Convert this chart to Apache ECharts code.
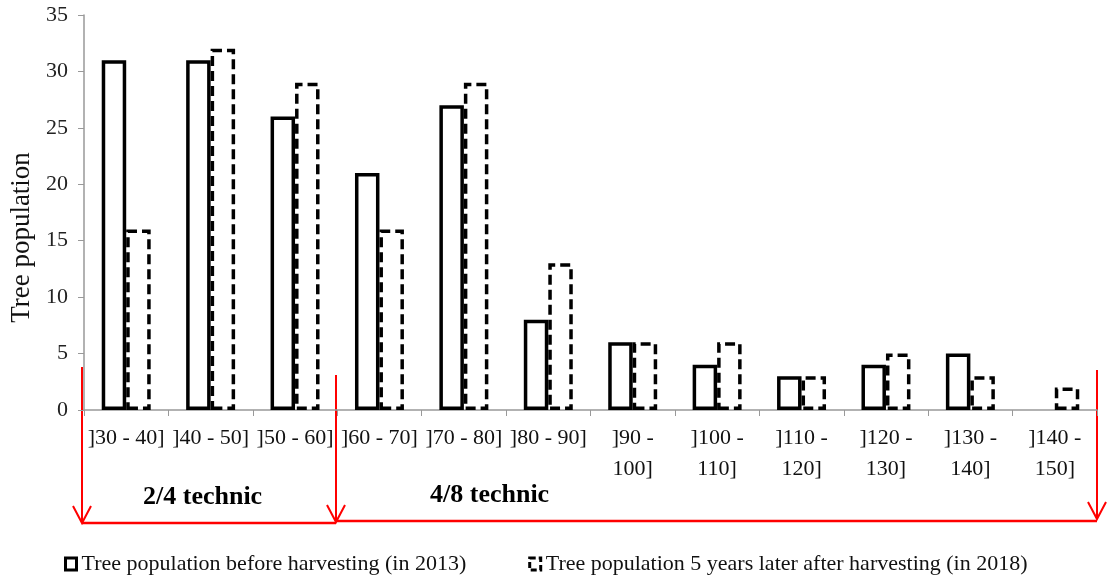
<!DOCTYPE html>
<html>
<head>
<meta charset="utf-8">
<script src="https://cdn.jsdelivr.net/npm/echarts@6/dist/echarts.min.js"></script>
<style>
html,body{margin:0;padding:0;background:#fff;}
#main{width:1115px;height:584px;}
</style>
</head>
<body>
<div id="main"></div>
<script>
const categories = [']30 - 40]', ']40 - 50]', ']50 - 60]', ']60 - 70]', ']70 - 80]', ']80 - 90]',
  ']90 -\n100]', ']100 -\n110]', ']110 -\n120]', ']120 -\n130]', ']130 -\n140]', ']140 -\n150]'];
const before2013 = [31, 31, 26, 21, 27, 8, 6, 4, 3, 4, 5, 0];
const after2018 = [16, 32, 29, 16, 29, 13, 6, 6, 3, 5, 3, 2];
const seriesNames = ['Tree population before harvesting (in 2013)', 'Tree population 5 years later after harvesting (in 2018)'];
const yTicks = {min: 0, max: 35, interval: 5};

const serif = '"Liberation Serif", "DejaVu Serif", serif';
const chart = echarts.init(document.getElementById('main'));

const red = '#ff0000';
function arrow(x, y1, y2) {
  return [
    {type: 'line', shape: {x1: x, y1: y1, x2: x, y2: y2}, style: {stroke: red, lineWidth: 2}},
    {type: 'polyline', shape: {points: [[x - 9, y2 - 17], [x, y2], [x + 9, y2 - 17]]}, style: {stroke: red, lineWidth: 2, fill: null}}
  ];
}
// zero-height bars are not outlined
function toItems(arr) {
  return arr.map(v => v === 0 ? {value: v, itemStyle: {borderWidth: 0}} : v);
}

chart.setOption({
  animation: false,
  backgroundColor: '#fff',
  grid: {left: 84, right: 18, top: 15, bottom: 174, containLabel: false, outerBoundsMode: 'none'},
  legend: {
    bottom: 4,
    left: 59,
    itemGap: 62,
    itemWidth: 11,
    itemHeight: 12,
    icon: 'rect',
    textStyle: {fontFamily: serif, fontSize: 22, color: '#111'},
    data: [
      {name: seriesNames[0], itemStyle: {color: '#fff', borderColor: '#000', borderWidth: 3}},
      {name: seriesNames[1], itemStyle: {color: '#fff', borderColor: '#000', borderWidth: 3, borderType: [6, 3]}}
    ]
  },
  xAxis: {
    type: 'category',
    data: categories,
    axisLine: {lineStyle: {color: '#999', width: 1.5}},
    axisTick: {show: true, length: 6, lineStyle: {color: '#999'}},
    axisLabel: {fontFamily: serif, fontSize: 22, color: '#111', margin: 13, lineHeight: 31, interval: 0}
  },
  yAxis: {
    type: 'value',
    min: yTicks.min, max: yTicks.max, interval: yTicks.interval,
    name: 'Tree population',
    nameLocation: 'middle',
    nameGap: 47,
    nameTextStyle: {fontFamily: serif, fontSize: 27, color: '#111', padding: [0, 50, 0, 0]},
    axisLine: {show: true, lineStyle: {color: '#999', width: 1.5}},
    axisTick: {show: true, length: 6, lineStyle: {color: '#999'}},
    splitLine: {show: false},
    axisLabel: {fontFamily: serif, fontSize: 22, color: '#222', margin: 16}
  },
  series: [
    {
      name: seriesNames[0], type: 'bar', data: toItems(before2013),
      barGap: '0%', barCategoryGap: '42%',
      itemStyle: {color: '#fff', borderColor: '#000', borderWidth: 3.5}
    },
    {
      name: seriesNames[1], type: 'bar', data: toItems(after2018),
      itemStyle: {color: '#fff', borderColor: '#000', borderWidth: 3.5, borderType: [10, 5]}
    }
  ],
  graphic: [
    ...arrow(82, 367, 523),
    ...arrow(336, 375, 522),
    ...arrow(1097, 370, 519),
    {type: 'line', shape: {x1: 82, y1: 523, x2: 336, y2: 523}, style: {stroke: red, lineWidth: 2.5}},
    {type: 'line', shape: {x1: 336, y1: 521, x2: 1097, y2: 521}, style: {stroke: red, lineWidth: 2.5}},
    {type: 'text', left: 143, top: 484, style: {text: '2/4 technic', font: 'bold 26px ' + serif, fill: '#000'}},
    {type: 'text', left: 430, top: 482, style: {text: '4/8 technic', font: 'bold 26px ' + serif, fill: '#000'}}
  ]
});
</script>
</body>
</html>
